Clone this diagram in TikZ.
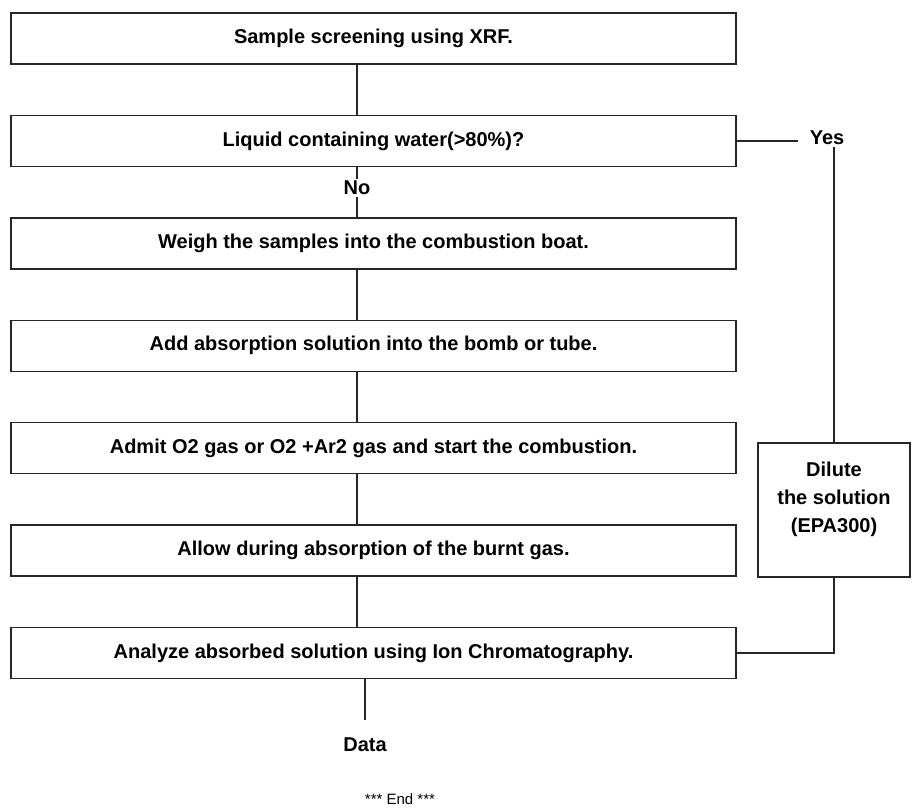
\documentclass[tikz,border=0pt]{standalone}
\usepackage{fontspec}
\setmainfont{Liberation Sans}
\usetikzlibrary{positioning}

\begin{document}
\begin{tikzpicture}[
  x=1pt, y=-1pt,
  box/.style={draw=black!85, line width=1.4pt, minimum width=725pt, minimum height=51pt, font=\bfseries\fontsize{20}{28}\selectfont, align=center},
  txt/.style={font=\bfseries\fontsize{20}{28}\selectfont, inner sep=2pt},
  link/.style={draw=black!85, line width=1.4pt}
]
\useasboundingbox (0,0) rectangle (913,809);

% main column
\coordinate (spine) at (357,0);
\node[box] (screen) at (373.5,38.5) {Sample screening using XRF.};
\node[box, below=50pt of screen] (liquid) {Liquid containing water(>80\%)?};
\node[box, below=50pt of liquid] (weigh) {Weigh the samples into the combustion boat.};
\node[box, below=50pt of weigh] (absorb) {Add absorption solution into the bomb or tube.};
\node[box, below=50pt of absorb] (admit) {Admit O2 gas or O2 +Ar2 gas and start the combustion.};
\node[box, below=50pt of admit] (allow) {Allow during absorption of the burnt gas.};
\node[box, below=50pt of allow] (analyze) {Analyze absorbed solution using Ion Chromatography.};

% branch and labels
\node[txt] (no) at (357,188) {No};
\node[txt] (yes) at (827,138) {Yes};
\node[box, minimum width=152pt, minimum height=134pt,
  label={[txt, align=center, yshift=11pt]center:Dilute\\the solution\\(EPA300)}] (dilute) at (834,510) {};
\node[txt] (data) at (365,745) {Data};
\node[font=\fontsize{15}{18}\selectfont, inner sep=1pt] (end) at (400,799) {*** End ***};

\draw[link] (screen.south -| spine) -- (liquid.north -| spine);
\draw[link] (liquid.south -| spine) -- (no.north);
\draw[link] (no.south) -- (weigh.north -| spine);
\draw[link] (weigh.south -| spine) -- (absorb.north -| spine);
\draw[link] (absorb.south -| spine) -- (admit.north -| spine);
\draw[link] (admit.south -| spine) -- (allow.north -| spine);
\draw[link] (allow.south -| spine) -- (analyze.north -| spine);
\draw[link, shorten >=10pt] (liquid.east) -- (liquid.east -| yes.west);
\draw[link] (yes.south -| dilute.north) -- (dilute.north);
\draw[link] (analyze.east) -| (dilute.south);
\draw[link, shorten >=16pt] (analyze.south -| data) -- (data.north);

\end{tikzpicture}
\end{document}
